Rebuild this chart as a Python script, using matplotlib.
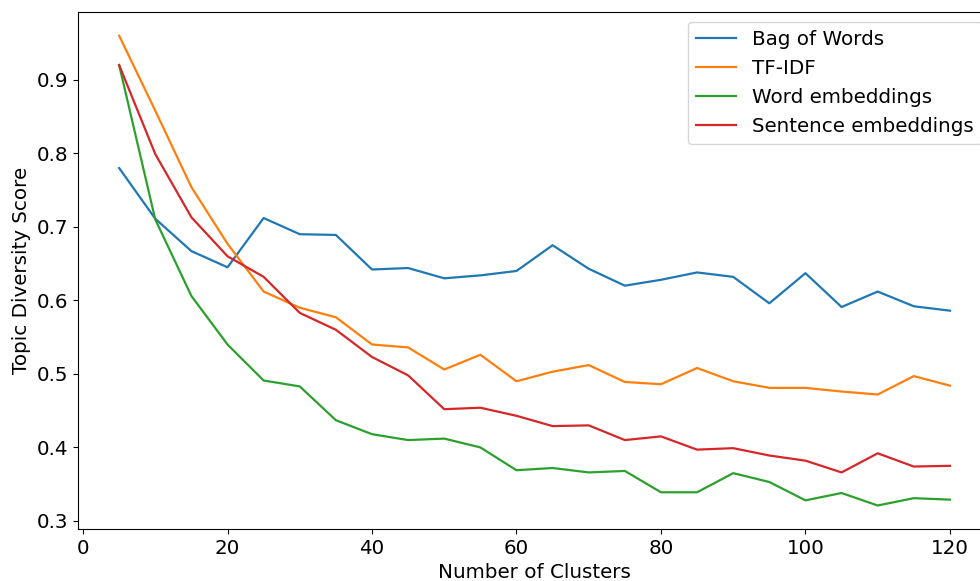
import matplotlib
matplotlib.use("Agg")
import matplotlib.pyplot as plt

clusters = list(range(5, 125, 5))

bag_of_words = [0.780, 0.711, 0.667, 0.645, 0.712, 0.690, 0.689, 0.642, 0.644, 0.630,
                0.634, 0.640, 0.675, 0.643, 0.620, 0.628, 0.638, 0.632, 0.596, 0.637,
                0.591, 0.612, 0.592, 0.586]
tf_idf = [0.960, 0.858, 0.754, 0.677, 0.612, 0.590, 0.577, 0.540, 0.536, 0.506,
          0.526, 0.490, 0.503, 0.512, 0.489, 0.486, 0.508, 0.490, 0.481, 0.481,
          0.476, 0.472, 0.497, 0.484]
word_emb = [0.920, 0.710, 0.606, 0.540, 0.491, 0.483, 0.437, 0.418, 0.410, 0.412,
            0.400, 0.369, 0.372, 0.366, 0.368, 0.339, 0.339, 0.365, 0.353, 0.328,
            0.338, 0.321, 0.331, 0.329]
sent_emb = [0.920, 0.799, 0.713, 0.660, 0.632, 0.583, 0.560, 0.523, 0.498, 0.452,
            0.454, 0.443, 0.429, 0.430, 0.410, 0.415, 0.397, 0.399, 0.389, 0.382,
            0.366, 0.392, 0.374, 0.375]

plt.rcParams["font.size"] = 14.3
plt.rcParams["lines.linewidth"] = 1.6

fig = plt.figure(figsize=(9.8, 5.81), dpi=100)
ax = fig.add_axes([0.0792, 0.0895, 0.9325, 0.8895])

ax.plot(clusters, bag_of_words, label="Bag of Words")
ax.plot(clusters, tf_idf, label="TF-IDF")
ax.plot(clusters, word_emb, label="Word embeddings")
ax.plot(clusters, sent_emb, label="Sentence embeddings")

ax.set_xlabel("Number of Clusters")
ax.set_ylabel("Topic Diversity Score")
ax.legend(loc="upper right")

fig.savefig("out.png", dpi=100)
